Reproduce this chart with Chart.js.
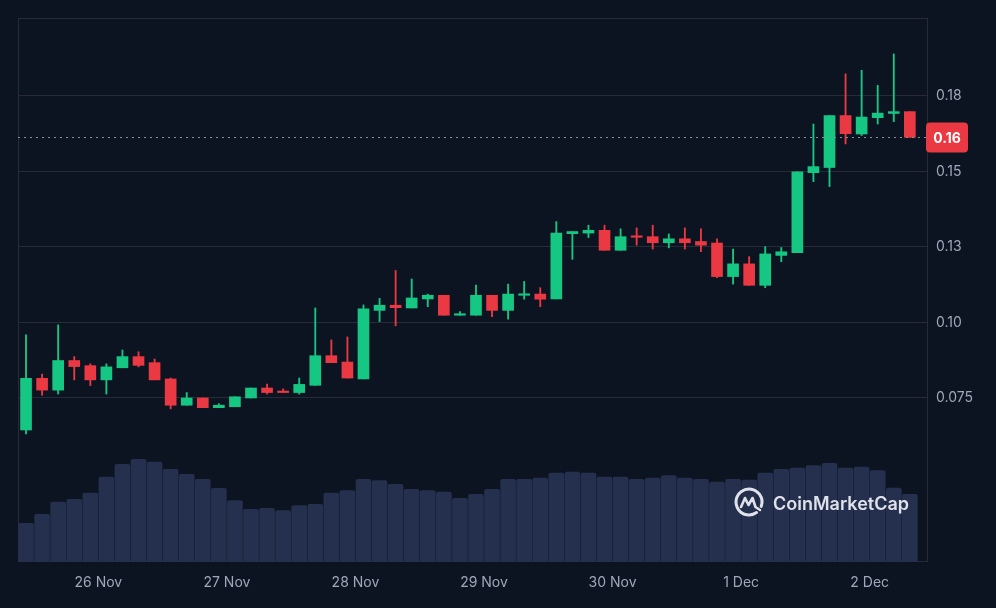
<!DOCTYPE html>
<html>
<head>
<meta charset="utf-8">
<script src="https://cdn.jsdelivr.net/npm/chart.js@4.4.1/dist/chart.umd.min.js"></script>
<style>
  html, body { margin: 0; padding: 0; background: #0d1421; }
  #wrap { width: 996px; height: 608px; }
</style>
</head>
<body>
<div id="wrap"><canvas id="chart" width="996" height="608"></canvas></div>
<script>
/* ===== Data (3h candles, 25 Nov 12:00 -> 2 Dec) ===== */
const opens  = [0.0644,0.0815,0.0776,0.0874,0.0857,0.0810,0.0850,0.0887,0.0867,0.0813,
                0.0726,0.0750,0.0718,0.0721,0.0750,0.0783,0.0771,0.0768,0.0792,0.0890,
                0.0869,0.0813,0.1040,0.1057,0.1048,0.1078,0.1090,0.1024,0.1024,0.1090,
                0.1040,0.1090,0.1094,0.1078,0.1294,0.1296,0.1305,0.1239,0.1286,0.1284,
                0.1264,0.1277,0.1268,0.1263,0.1152,0.1194,0.1123,0.1222,0.1231,0.1496,
                0.1513,0.1685,0.1624,0.1678,0.1692,0.1698];
const highs  = [0.0959,0.0829,0.0992,0.0887,0.0863,0.0863,0.0909,0.0903,0.0879,0.0816,
                0.0768,0.0750,0.0731,0.0754,0.0783,0.0796,0.0780,0.0816,0.1048,0.0942,
                0.0952,0.1058,0.1080,0.1172,0.1144,0.1094,0.1090,0.1036,0.1124,0.1090,
                0.1127,0.1136,0.1115,0.1334,0.1301,0.1322,0.1322,0.1310,0.1313,0.1322,
                0.1293,0.1313,0.1310,0.1277,0.1243,0.1218,0.1251,0.1248,0.1499,0.1657,
                0.1685,0.1823,0.1835,0.1785,0.1889,0.1698];
const lows   = [0.0631,0.0759,0.0763,0.0810,0.0791,0.0763,0.0850,0.0853,0.0810,0.0714,
                0.0726,0.0718,0.0718,0.0721,0.0750,0.0763,0.0768,0.0763,0.0792,0.0867,
                0.0816,0.0813,0.1003,0.0989,0.1048,0.1052,0.1024,0.1024,0.1024,0.1019,
                0.1011,0.1077,0.1052,0.1078,0.1209,0.1281,0.1239,0.1239,0.1256,0.1243,
                0.1247,0.1243,0.1234,0.1148,0.1127,0.1123,0.1115,0.1201,0.1231,0.1466,
                0.1450,0.1591,0.1619,0.1657,0.1665,0.1613];
const closes = [0.0815,0.0776,0.0874,0.0854,0.0810,0.0853,0.0887,0.0858,0.0810,0.0726,
                0.0750,0.0718,0.0726,0.0754,0.0783,0.0768,0.0768,0.0795,0.0890,0.0867,
                0.0816,0.1045,0.1057,0.1049,0.1081,0.1090,0.1024,0.1028,0.1090,0.1040,
                0.1094,0.1094,0.1077,0.1296,0.1301,0.1305,0.1239,0.1284,0.1282,0.1264,
                0.1277,0.1264,0.1256,0.1152,0.1194,0.1123,0.1227,0.1234,0.1499,0.1516,
                0.1685,0.1625,0.1680,0.1693,0.1698,0.1613];
// volume, millions
const volumes = [3.87,4.77,6.00,6.27,6.90,8.50,9.77,10.27,10.00,9.27,
                 8.77,8.27,7.37,6.13,5.27,5.37,5.13,5.63,5.77,6.90,
                 7.13,8.27,8.13,7.77,7.27,7.13,7.00,6.37,6.77,7.27,
                 8.27,8.27,8.40,8.90,9.00,8.90,8.50,8.50,8.27,8.40,
                 8.63,8.40,8.27,8.00,8.27,8.20,8.90,9.27,9.40,9.63,
                 9.87,9.40,9.50,9.13,7.40,6.77];

const dayTicks   = [4.5, 12.5, 20.5, 28.5, 36.5, 44.5, 52.5];
const dayLabels  = ['26 Nov', '27 Nov', '28 Nov', '29 Nov', '30 Nov', '1 Dec', '2 Dec'];
const priceTicks  = [0.075, 0.1, 0.125, 0.15, 0.175];
const priceLabels = ['0.075', '0.10', '0.13', '0.15', '0.18'];

const UP = '#16c784';
const DOWN = '#ea3943';
const BG = '#0d1421';
const LINE = '#262b37';
const LABEL = '#a1a7bb';

const colorOf = i => closes[i] >= opens[i] ? UP : DOWN;
const idx = opens.map((_, i) => i);

/* ===== Plugins ===== */
const frame = {
  id: 'frame',
  beforeDraw(chart) {
    const { ctx, width, height } = chart;
    ctx.save();
    ctx.fillStyle = BG;
    ctx.fillRect(0, 0, width, height);
    ctx.restore();
  },
  beforeDatasetsDraw(chart) {
    const { ctx, chartArea: a } = chart;
    ctx.save();
    ctx.strokeStyle = LINE;
    ctx.lineWidth = 1;
    ctx.strokeRect(Math.round(a.left) + 0.5, Math.round(a.top) + 0.5,
                   Math.round(a.right - a.left) - 1, Math.round(a.bottom - a.top) - 1);
    ctx.restore();
  }
};

const lastPrice = {
  id: 'lastPrice',
  afterDatasetsDraw(chart) {
    const { ctx, chartArea: a, scales } = chart;
    const last = closes[closes.length - 1];
    const y = Math.round(scales.y.getPixelForValue(last)) + 0.5;
    ctx.save();
    ctx.strokeStyle = '#8a8f9c';
    ctx.lineWidth = 1;
    ctx.setLineDash([2, 4]);
    ctx.beginPath();
    ctx.moveTo(a.left, y);
    ctx.lineTo(a.right, y);
    ctx.stroke();
    ctx.setLineDash([]);

    const x0 = a.right - 2, w = 42, h = 30;
    ctx.fillStyle = DOWN;
    ctx.beginPath();
    ctx.roundRect(x0, y - h / 2, w, h, 4);
    ctx.fill();
    ctx.fillStyle = '#ffffff';
    ctx.font = 'bold 14px Inter';
    ctx.textAlign = 'center';
    ctx.textBaseline = 'middle';
    ctx.fillText(last.toFixed(2), x0 + w / 2, y + 1);
    ctx.restore();
  }
};

const watermark = {
  id: 'watermark',
  afterDatasetsDraw(chart) {
    const { ctx } = chart;
    const cx = 749, cy = 502, r = 13;
    ctx.save();
    ctx.strokeStyle = '#dfe2ea';
    ctx.lineWidth = 3;
    ctx.lineCap = 'round';
    ctx.lineJoin = 'round';
    ctx.beginPath();
    ctx.arc(cx, cy, r, 0.95, 0.35 + Math.PI * 2);
    ctx.stroke();
    ctx.lineWidth = 2.6;
    ctx.beginPath();
    ctx.moveTo(cx - 8, cy + 5);
    ctx.lineTo(cx - 4, cy - 4);
    ctx.lineTo(cx - 0.5, cy + 3);
    ctx.lineTo(cx + 3.5, cy - 4);
    ctx.lineTo(cx + 6.5, cy + 5);
    ctx.lineTo(cx + 11, cy + 8);
    ctx.stroke();

    let size = 20;
    ctx.font = `600 ${size}px Inter`;
    const w = ctx.measureText('CoinMarketCap').width;
    size = size * 136 / w;
    ctx.font = `600 ${size.toFixed(2)}px Inter`;
    ctx.fillStyle = '#dfe2ea';
    ctx.textBaseline = 'alphabetic';
    ctx.fillText('CoinMarketCap', 773, 510);
    ctx.restore();
  }
};

/* ===== Chart ===== */
new Chart(document.getElementById('chart'), {
  type: 'bar',
  data: {
    datasets: [
      {
        label: 'body',
        data: idx.map(i => ({ x: i, y: [opens[i], closes[i]] })),
        backgroundColor: idx.map(colorOf),
        barThickness: 11,
        minBarLength: 1.5,
        grouped: false,
        order: 1,
        yAxisID: 'y'
      },
      {
        label: 'wick',
        data: idx.map(i => ({ x: i, y: [lows[i], highs[i]] })),
        backgroundColor: idx.map(colorOf),
        barThickness: 1.2,
        grouped: false,
        order: 2,
        yAxisID: 'y'
      },
      {
        label: 'volume',
        data: idx.map(i => ({ x: i, y: volumes[i] })),
        backgroundColor: '#252f4e',
        barThickness: 15,
        borderRadius: { topLeft: 2, topRight: 2 },
        borderSkipped: 'start',
        grouped: false,
        order: 3,
        yAxisID: 'yv'
      }
    ]
  },
  options: {
    responsive: false,
    animation: false,
    devicePixelRatio: 1,
    layout: { padding: { left: 18, top: 18, right: 0, bottom: 0 } },
    plugins: {
      legend: { display: false },
      tooltip: { enabled: false }
    },
    scales: {
      x: {
        type: 'linear',
        min: -0.5,
        max: 56.13,
        offset: false,
        grid: { display: false, offset: false },
        border: { display: false },
        afterBuildTicks: axis => { axis.ticks = dayTicks.map(v => ({ value: v })); },
        afterFit: axis => { axis.height = 46; },
        ticks: {
          autoSkip: false,
          maxRotation: 0,
          padding: 4,
          color: LABEL,
          font: { family: 'Inter', size: 14 },
          callback: (v, i) => dayLabels[i]
        }
      },
      y: {
        position: 'right',
        min: 0.0207,
        max: 0.2008,
        grid: { color: LINE, drawTicks: false },
        border: { display: false },
        afterBuildTicks: axis => { axis.ticks = priceTicks.map(v => ({ value: v })); },
        afterFit: axis => { axis.width = 68; },
        ticks: {
          padding: 8,
          color: LABEL,
          font: { family: 'Inter', size: 14 },
          callback: (v, i) => priceLabels[i]
        }
      },
      yv: {
        display: false,
        min: 0,
        max: 54.4
      }
    }
  },
  plugins: [frame, lastPrice, watermark]
});
</script>
</body>
</html>
